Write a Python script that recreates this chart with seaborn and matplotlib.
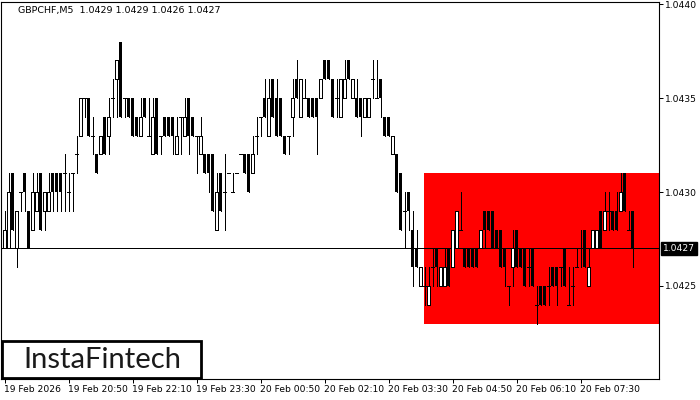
import numpy as np
import matplotlib
matplotlib.use("Agg")
import matplotlib.pyplot as plt
import seaborn as sns
from matplotlib.patches import Rectangle

# prices are given in pips above 1.0400 (29 -> 1.0429)
BASE = 1.04
PIP = 0.0001

open_pips = [27, 27, 31, 27, 30, 31, 29, 28, 29, 31, 29, 29, 31, 31, 31, 31,
             30, 31, 32, 33, 35, 35, 33, 32, 32, 34, 33, 35, 36, 38, 35, 35,
             35, 34, 33, 35, 33, 32, 35, 33, 34, 34, 34, 32, 34, 33, 35, 34,
             33, 32, 32, 32, 32, 28, 31, 30, 31, 30, 31, 32, 32, 32, 31, 33,
             34, 35, 33, 36, 35, 35, 33, 33, 34, 36, 34, 35, 35, 35, 35, 35,
             37, 37, 36, 35, 34, 35, 37, 35, 35, 35, 34, 34, 36, 35, 36, 34,
             34, 32, 32, 31, 29, 30, 28, 27, 25, 25, 24, 26, 27, 25, 25, 27,
             26, 27, 28, 27, 27, 27, 27, 27, 29, 29, 29, 28, 28, 27, 25, 26,
             28, 27, 27, 26, 27, 24, 25, 25, 25, 26, 26, 26, 27, 24, 25, 26,
             27, 28, 25, 27, 27, 29, 28, 29, 29, 29, 29, 31, 28, 29]
high_pips = [29, 31, 31, 29, 30, 31, 29, 31, 31, 31, 30, 31, 31, 31, 31, 32,
             31, 31, 33, 35, 35, 35, 34, 32, 33, 34, 35, 36, 37, 38, 35, 35,
             35, 34, 35, 35, 35, 35, 35, 33, 34, 34, 34, 34, 34, 35, 35, 34,
             33, 34, 32, 32, 32, 31, 31, 32, 31, 31, 31, 32, 32, 32, 33, 34,
             34, 36, 36, 36, 36, 35, 33, 33, 36, 37, 36, 36, 35, 35, 35, 36,
             37, 37, 36, 36, 36, 37, 37, 36, 36, 35, 35, 35, 37, 37, 36, 34,
             34, 33, 32, 31, 30, 30, 29, 28, 26, 26, 26, 27, 27, 26, 27, 27,
             28, 29, 30, 27, 27, 27, 27, 28, 29, 29, 29, 28, 28, 27, 25, 28,
             28, 27, 27, 27, 27, 25, 25, 25, 26, 26, 26, 26, 27, 26, 26, 27,
             28, 28, 27, 28, 28, 29, 30, 30, 29, 30, 31, 31, 29, 29]
low_pips = [27, 27, 28, 26, 29, 29, 27, 28, 29, 28, 28, 29, 29, 29, 29, 29,
            29, 29, 31, 33, 34, 33, 32, 31, 32, 32, 32, 34, 34, 34, 34, 34,
            33, 33, 33, 34, 33, 32, 32, 32, 33, 33, 32, 32, 32, 33, 32, 33,
            31, 32, 31, 30, 29, 28, 29, 28, 31, 30, 31, 32, 31, 30, 31, 32,
            33, 34, 33, 34, 33, 33, 32, 32, 33, 35, 34, 35, 34, 34, 32, 35,
            36, 36, 34, 34, 34, 35, 36, 35, 34, 33, 34, 34, 35, 35, 34, 33,
            33, 32, 30, 28, 27, 28, 25, 26, 25, 24, 24, 25, 25, 25, 25, 25,
            26, 27, 28, 26, 26, 26, 26, 27, 27, 28, 27, 27, 26, 25, 24, 25,
            26, 26, 25, 25, 25, 23, 24, 24, 24, 25, 24, 25, 25, 24, 24, 26,
            26, 26, 25, 27, 27, 27, 28, 28, 28, 28, 29, 29, 28, 26]
close_pips = [28, 30, 28, 29, 30, 30, 27, 30, 30, 28, 30, 30, 30, 30, 30, 31,
              30, 31, 32, 35, 35, 33, 33, 31, 33, 32, 34, 35, 37, 34, 35, 34,
              33, 33, 34, 34, 33, 34, 32, 33, 33, 33, 33, 33, 34, 34, 33, 33,
              33, 33, 31, 31, 29, 30, 29, 30, 31, 30, 31, 32, 31, 30, 32, 33,
              34, 34, 35, 34, 33, 33, 32, 33, 35, 35, 36, 35, 34, 34, 34, 36,
              36, 36, 34, 35, 36, 36, 36, 36, 34, 34, 35, 35, 36, 35, 35, 33,
              33, 33, 30, 28, 29, 29, 26, 26, 26, 25, 25, 26, 26, 26, 26, 25,
              28, 29, 28, 26, 26, 26, 26, 28, 28, 28, 27, 27, 26, 26, 25, 27,
              26, 26, 25, 26, 25, 24, 24, 24, 25, 25, 25, 26, 25, 24, 25, 26,
              27, 26, 26, 28, 28, 27, 29, 29, 28, 28, 30, 29, 28, 27]

time_labels = ["19 Feb 2026", "19 Feb 20:50", "19 Feb 22:10", "19 Feb 23:30",
               "20 Feb 00:50", "20 Feb 02:10", "20 Feb 03:30", "20 Feb 04:50",
               "20 Feb 06:10", "20 Feb 07:30"]
label_every = 16  # one label per 80 minutes of M5 bars
price_ticks = [1.0425, 1.0430, 1.0435, 1.0440]

current_price = 1.0427
zone_low, zone_high = 1.0423, 1.0431
zone_start = 104.75

title = "GBPCHF,M5  1.0429 1.0429 1.0426 1.0427"

# ---------------------------------------------------------------
o = BASE + np.array(open_pips) * PIP
h = BASE + np.array(high_pips) * PIP
l = BASE + np.array(low_pips) * PIP
c = BASE + np.array(close_pips) * PIP
x = np.arange(len(o))

sns.set_theme(style="white")
plt.rcParams["font.family"] = ["DejaVu Sans"]

fig = plt.figure(figsize=(7, 4), dpi=100)
ax = fig.add_axes([1 / 700, 21 / 400, 658 / 700, 377 / 400])

# red rectangle zone and the current price line
ax.add_patch(Rectangle((zone_start, zone_low), 200, zone_high - zone_low,
                       facecolor="#ff0000", edgecolor="none", zorder=1))
ax.axhline(current_price, color="black", lw=0.72, zorder=1.5, antialiased=False)

# wicks
ax.vlines(x, l, h, color="black", lw=0.72, zorder=2, antialiased=False)

bull = c > o
bear = c < o
doji = c == o
w = 0.8
ax.bar(x[bear], (o - c)[bear], bottom=c[bear], width=w, color="black",
       linewidth=0, zorder=3, antialiased=False)
ax.bar(x[bull], (c - o)[bull], bottom=o[bull], width=w, color="white",
       edgecolor="black", linewidth=0.6, zorder=3, antialiased=False)
ax.hlines(c[doji], x[doji] - w / 2, x[doji] + w / 2, color="black",
          lw=0.72, zorder=3, antialiased=False)

# 4 px per bar so bodies fall on whole pixels
ax.set_xlim(-0.875, 163.625)
ax.set_ylim(1.042005, 1.044011)

ax.yaxis.tick_right()
ax.set_yticks(price_ticks)
ax.set_yticklabels([f"{p:.4f}" for p in price_ticks])
ax.set_xticks(np.arange(len(time_labels)) * label_every)
ax.set_xticklabels(time_labels, ha="left")
ax.tick_params(axis="both", direction="out", length=3, width=0.72,
               color="black", labelsize=6.6, labelcolor="black", pad=1.5)
ax.tick_params(axis="y", right=True, left=False)
ax.tick_params(axis="x", bottom=True)
for s in ax.spines.values():
    s.set_visible(True)
    s.set_color("black")
    s.set_linewidth(0.8)
ax.grid(False)

# current price tag on the right axis
ax.annotate(f"{current_price:.4f}", xy=(1, current_price),
            xycoords=("axes fraction", "data"), xytext=(3, 0),
            textcoords="offset points", va="center", ha="left",
            fontsize=6.6, color="white",
            bbox=dict(boxstyle="square,pad=0.25", fc="black", ec="black"),
            annotation_clip=False)

fig.text(18 / 700, 1 - 11 / 400, title, fontsize=6.8, va="center",
         ha="left", color="black")

# logo box
fig.add_artist(Rectangle((2 / 700, 1 - 378 / 400), 199 / 700, 37 / 400,
                         transform=fig.transFigure, facecolor="white",
                         edgecolor="black", linewidth=2, zorder=5))
fig.text(102 / 700, 1 - 360 / 400, "InstaFintech", fontsize=21,
         family=["Lato", "DejaVu Sans"], ha="center",
         va="center", color="#1a1a1a", zorder=6)

fig.savefig("out.png", dpi=100)
